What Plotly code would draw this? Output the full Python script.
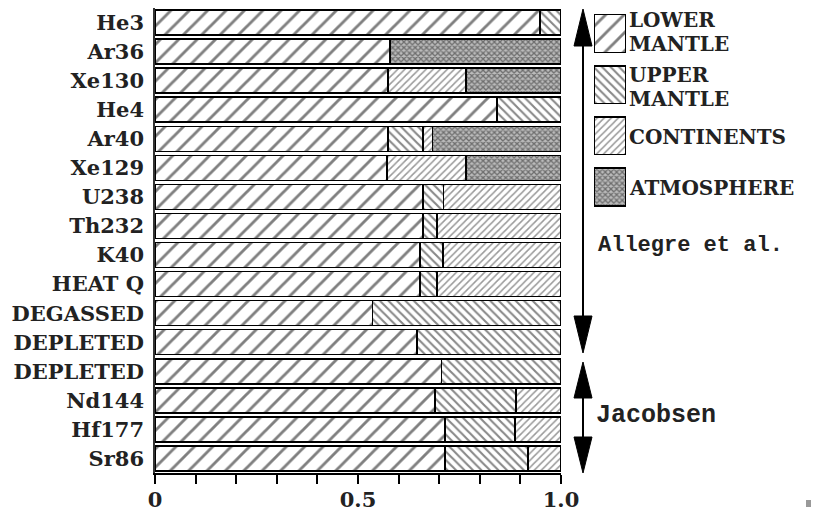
import plotly.graph_objects as go

# ---------------- data ----------------
species = ["He3", "Ar36", "Xe130", "He4", "Ar40", "Xe129", "U238", "Th232", "K40",
           "HEAT Q", "DEGASSED", "DEPLETED", "DEPLETED", "Nd144", "Hf177", "Sr86"]
lower_mantle = [0.948, 0.579, 0.574, 0.842, 0.574, 0.572, 0.660, 0.660, 0.653,
                0.653, 0.536, 0.645, 0.706, 0.690, 0.714, 0.714]
upper_mantle = [0.052, 0.000, 0.000, 0.158, 0.086, 0.000, 0.050, 0.035, 0.056,
                0.042, 0.464, 0.355, 0.294, 0.199, 0.173, 0.205]
continents = [0.000, 0.000, 0.192, 0.000, 0.024, 0.194, 0.290, 0.305, 0.291,
              0.305, 0.000, 0.000, 0.000, 0.111, 0.113, 0.081]
atmosphere = [0.000, 0.421, 0.234, 0.000, 0.316, 0.234, 0.000, 0.000, 0.000,
              0.000, 0.000, 0.000, 0.000, 0.000, 0.000, 0.000]
x_tickvals = [0, 0.5, 1.0]
x_ticktext = ["0", "0.5", "1.0"]
legend_lines = [["LOWER", "MANTLE"], ["UPPER", "MANTLE"], ["CONTINENTS"], ["ATMOSPHERE"]]
group_labels = ["Allegre et al.", "Jacobsen"]

# ---------------- geometry helpers (screen pixel -> paper) ----------------
OFF = 8  # page body margin
W, H = 819 - OFF, 515 - OFF
L, R, T, B = 147, 0, 0, 42
PW = W - L - R
PH = H - T - B


def px(x):
    return (x - OFF - L) / PW


def py(y):
    return (H - B - (y - OFF)) / PH


patterns = [
    dict(shape="/", size=13, solidity=0.22, fgcolor="black", bgcolor="white"),
    dict(shape="\\", size=6, solidity=0.35, fgcolor="#111", bgcolor="white"),
    dict(shape="/", size=5, solidity=0.3, fgcolor="#333", bgcolor="white"),
    dict(shape="x", size=4, solidity=0.55, fgcolor="#222", bgcolor="#bbb"),
]
names = ["LOWER MANTLE", "UPPER MANTLE", "CONTINENTS", "ATMOSPHERE"]
series = [lower_mantle, upper_mantle, continents, atmosphere]
ypos = list(range(len(species)))

fig = go.Figure()
for name, vals, pat in zip(names, series, patterns):
    fig.add_trace(go.Bar(
        x=vals, y=ypos, orientation="h", name=name,
        marker=dict(color="white", pattern=pat, line=dict(color="black", width=1.5)),
        showlegend=False, hoverinfo="x+name",
    ))

# legend swatches drawn as bars in a small side subplot
for i, pat in enumerate(patterns):
    fig.add_trace(go.Bar(
        x=[1], y=[i], orientation="h", width=0.74, xaxis="x2", yaxis="y2",
        marker=dict(color="white", pattern=pat, line=dict(color="black", width=1.5)),
        showlegend=False, hoverinfo="skip",
    ))

serif = "DejaVu Serif"
fig.update_layout(
    width=W, height=H,
    margin=dict(l=L, r=R, t=T, b=B, pad=0),
    plot_bgcolor="white", paper_bgcolor="white",
    barmode="stack", bargap=0.14,
    showlegend=False,
    xaxis=dict(
        domain=[0, 406 / PW], range=[0, 1], tickvals=x_tickvals, ticktext=x_ticktext,
        ticks="outside", ticklen=9, tickwidth=1.5, tickcolor="black",
        minor=dict(dtick=0.1, tick0=0, ticks="outside", ticklen=9, tickwidth=1.5, tickcolor="black"),
        showline=True, linewidth=2, linecolor="black", showgrid=False, zeroline=False,
        tickfont=dict(family=serif, size=21, color="#222", weight="bold"),
        ticklabelstandoff=-2, automargin=False,
    ),
    yaxis=dict(
        range=[len(species) - 0.5, -0.5], tickvals=ypos, ticktext=species,
        showline=True, linewidth=1.5, linecolor="#333", showgrid=False, zeroline=False,
        ticks="", tickfont=dict(family=serif, size=21, color="#222", weight="bold"),
        ticklabelstandoff=5, automargin=False,
    ),
    xaxis2=dict(domain=[px(594), px(626)], range=[0, 1], visible=False, anchor="y2",
                automargin=False),
    yaxis2=dict(domain=[py(212.5), py(8)], range=[3.5, -0.5], visible=False, anchor="x2",
                automargin=False),
)

# legend texts
legend_text_pos = [[20, 44], [75, 99], [137], [188]]
for lines, ys in zip(legend_lines, legend_text_pos):
    for txt, yy in zip(lines, ys):
        fig.add_annotation(x=px(627), y=py(yy), xref="paper", yref="paper", text=txt,
                           showarrow=False, xanchor="left", yanchor="middle",
                           font=dict(family=serif, size=20, color="#222", weight="bold"))

fig.add_annotation(x=px(596), y=py(245), xref="paper", yref="paper", text=group_labels[0],
                   showarrow=False, xanchor="left", yanchor="middle",
                   font=dict(family="Liberation Mono", size=22, color="#222", weight="bold"))
fig.add_annotation(x=px(594), y=py(415), xref="paper", yref="paper", text=group_labels[1],
                   showarrow=False, xanchor="left", yanchor="middle",
                   font=dict(family="Liberation Mono", size=25, color="#222", weight="bold"))

# arrows
AX = 583


def tri(tipy, basey, hw=9):
    return (f"M {px(AX)},{py(tipy)} L {px(AX - hw)},{py(basey)} "
            f"L {px(AX + hw)},{py(basey)} Z")


shapes = [
    dict(type="line", xref="paper", yref="paper", x0=px(AX), x1=px(AX), y0=py(40), y1=py(322),
         line=dict(color="black", width=2)),
    dict(type="line", xref="paper", yref="paper", x0=px(AX), x1=px(AX), y0=py(394), y1=py(442),
         line=dict(color="black", width=2)),
]
for tip, base in [(9, 46), (353, 316), (362, 398), (473, 437)]:
    shapes.append(dict(type="path", xref="paper", yref="paper", path=tri(tip, base),
                       fillcolor="black", line=dict(color="black", width=1)))
shapes.append(dict(type="rect", xref="paper", yref="paper", x0=px(806), x1=px(812),
                   y0=py(507), y1=py(500), fillcolor="#999", line=dict(width=0)))
fig.update_layout(shapes=shapes)

fig.write_html("out.html")
